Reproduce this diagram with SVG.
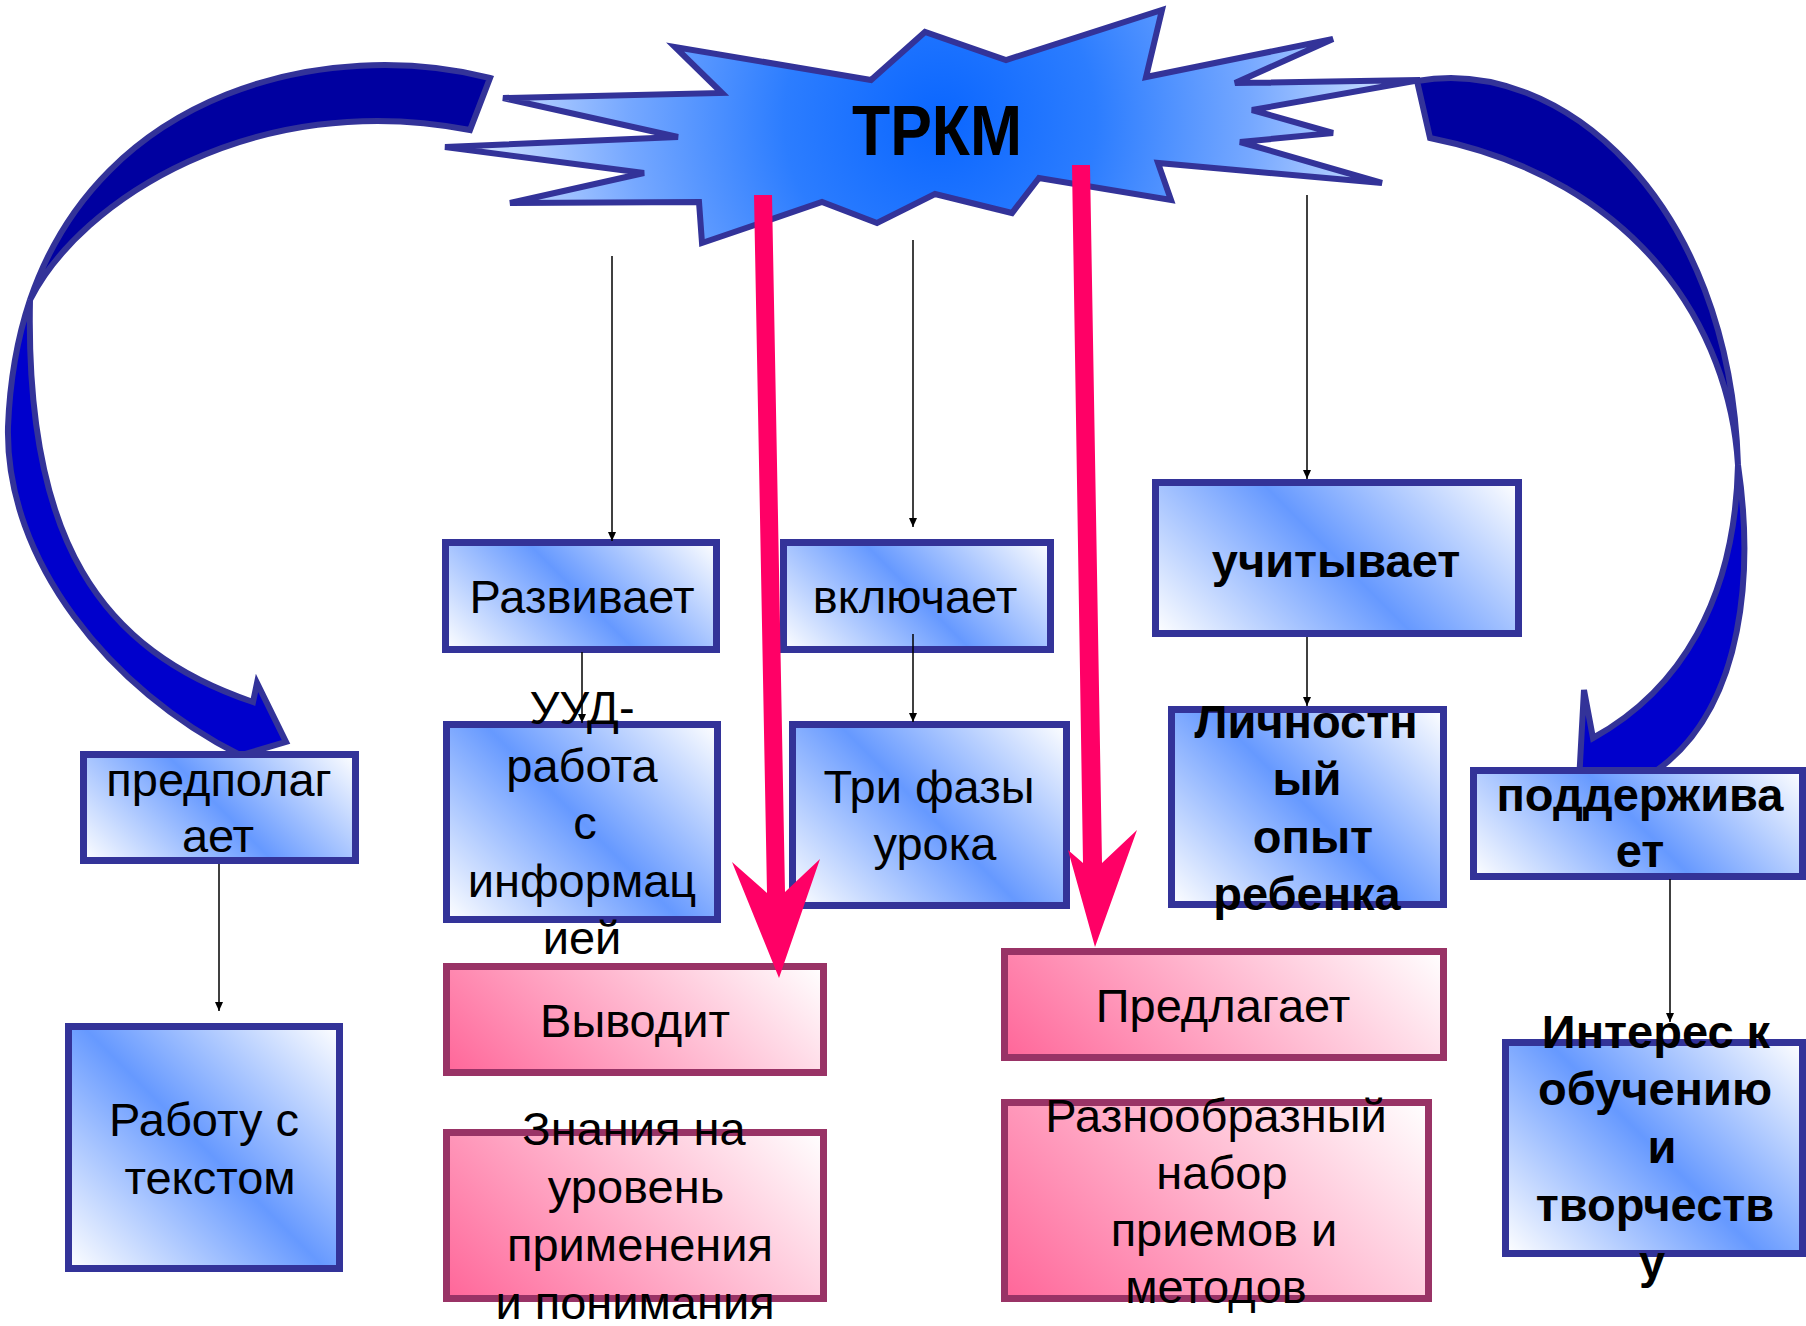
<svg xmlns="http://www.w3.org/2000/svg" width="1806" height="1326" viewBox="0 0 1806 1326">
<defs>
<style>
.t{font-family:"Liberation Sans",Arial,sans-serif;font-size:47px;text-anchor:middle;fill:#000}
.b{font-weight:bold}
.big{font-size:71px}
.bx{stroke:#333399;stroke-width:7}
.pk{stroke:#993366;stroke-width:7}
.cn{stroke:#000;stroke-width:1.5;fill:none;marker-end:url(#ah)}
.arcD{fill:#0000A0;stroke:#333399;stroke-width:6;stroke-linejoin:miter}
.arcB{fill:#0000CC;stroke:#333399;stroke-width:6;stroke-linejoin:miter}
.pa{fill:#FF0066}
</style>
<marker id="ah" markerUnits="userSpaceOnUse" markerWidth="9" markerHeight="12" refX="9" refY="4" orient="auto">
<path d="M0,0 L9,4 L0,8 z" fill="#000"/>
</marker>
<radialGradient id="gStar" gradientUnits="userSpaceOnUse" cx="940" cy="120" r="520">
<stop offset="0" stop-color="#0A66FF"/>
<stop offset="0.3" stop-color="#2C7DFF"/>
<stop offset="0.6" stop-color="#76A8FF"/>
<stop offset="1" stop-color="#F2F6FF"/>
</radialGradient>
<linearGradient id="gB">
<stop offset="0" stop-color="#FFFFFF"/>
<stop offset="0.5" stop-color="#6699FF"/>
<stop offset="1" stop-color="#FFFFFF"/>
</linearGradient>
<linearGradient id="gP">
<stop offset="0" stop-color="#FF6699"/>
<stop offset="1" stop-color="#FFFFFF"/>
</linearGradient>
<linearGradient id="g1" href="#gB" gradientUnits="userSpaceOnUse" x1="486.5" y1="690.5" x2="675.5" y2="501.5"/>
<linearGradient id="g2" href="#gB" gradientUnits="userSpaceOnUse" x1="823.5" y1="689.5" x2="1010.5" y2="502.5"/>
<linearGradient id="g3" href="#gB" gradientUnits="userSpaceOnUse" x1="465.5" y1="938.5" x2="698.5" y2="705.5"/>
<linearGradient id="g4" href="#gB" gradientUnits="userSpaceOnUse" x1="815.75" y1="928.75" x2="1043.25" y2="701.25"/>
<linearGradient id="g5" href="#gB" gradientUnits="userSpaceOnUse" x1="1208.5" y1="686.5" x2="1465.5" y2="429.5"/>
<linearGradient id="g6" href="#gB" gradientUnits="userSpaceOnUse" x1="1190.75" y1="923.75" x2="1424.25" y2="690.25"/>
<linearGradient id="g7" href="#gB" gradientUnits="userSpaceOnUse" x1="125" y1="902" x2="314" y2="713"/>
<linearGradient id="g8" href="#gB" gradientUnits="userSpaceOnUse" x1="75.75" y1="1275.75" x2="332.25" y2="1019.25"/>
<linearGradient id="g9" href="#gP" gradientUnits="userSpaceOnUse" x1="514.25" y1="1140.25" x2="755.75" y2="898.75"/>
<linearGradient id="g10" href="#gP" gradientUnits="userSpaceOnUse" x1="499.25" y1="1351.25" x2="770.75" y2="1079.75"/>
<linearGradient id="g11" href="#gP" gradientUnits="userSpaceOnUse" x1="1087.75" y1="1140.75" x2="1360.25" y2="868.25"/>
<linearGradient id="g12" href="#gP" gradientUnits="userSpaceOnUse" x1="1061.5" y1="1355.5" x2="1371.5" y2="1045.5"/>
<linearGradient id="g13" href="#gB" gradientUnits="userSpaceOnUse" x1="1529.25" y1="932.25" x2="1746.75" y2="714.75"/>
<linearGradient id="g14" href="#gB" gradientUnits="userSpaceOnUse" x1="1527" y1="1275" x2="1781" y2="1021"/>
</defs>
<rect width="1806" height="1326" fill="#FFFFFF"/>

<g id="curved-arrows">
<g id="arrow-left">
<path class="arcD" d="M490,78 C328.5,37.2 102,88.9 30,300 C80,200 255,88 470,130 Z"/>
<path class="arcB" d="M30,300 C17.6,337.2 9.8,379.5 8,427 C5,560 110,690 240,755 L218,762 L286,742 L257,683 L253,702 C100,650 25,540 30,300 Z"/>
</g>
<g id="arrow-right">
<path class="arcD" d="M1417,81 C1560,55 1730,200 1738,465 C1730,330 1640,180 1430,138 Z"/>
<path class="arcB" d="M1738,465 C1752,560 1750,710 1650,775 L1600,800 L1578,800 L1584,690 L1593,738 C1680,690 1735,600 1738,465 Z"/>
</g>
</g>

<g id="trkm">
<polygon points="445,147 678,137 503,98 722,93 675,47 871,80 925,32 1006,60 1162,10 1146,77 1333,39 1235,83 1420,80 1252,110 1333,133 1240,142 1382,183 1158,163 1171,200 1039,178 1012,213 935,194 877,223 822,202 702,243 699,202 510,203 644,173" fill="url(#gStar)" stroke="#333399" stroke-width="6" stroke-linejoin="miter"/>
<text class="t b big" x="937" y="155" textLength="170" lengthAdjust="spacingAndGlyphs">ТРКМ</text>
</g>

<g id="razvivaet">
<rect class="bx" x="445.5" y="542.5" width="271" height="107" fill="url(#g1)"/>
<text class="t" x="582" y="613">Развивает</text>
</g>
<g id="vklyuchaet">
<rect class="bx" x="783.5" y="542.5" width="267" height="107" fill="url(#g2)"/>
<text class="t" x="915" y="613">включает</text>
</g>
<g id="uud">
<rect class="bx" x="446.5" y="724.5" width="271" height="195" fill="url(#g3)"/>
<text class="t" x="582" y="724">УУД-</text>
<text class="t" x="582" y="782">работа</text>
<text class="t" x="585" y="839">с</text>
<text class="t" x="582" y="897">информац</text>
<text class="t" x="582" y="954">ией</text>
</g>
<g id="tri-fazy">
<rect class="bx" x="792.5" y="724.5" width="274" height="181" fill="url(#g4)"/>
<text class="t" x="929" y="803">Три фазы</text>
<text class="t" x="935" y="860">урока</text>
</g>
<g id="uchityvaet">
<rect class="bx" x="1155.5" y="482.5" width="363" height="151" fill="url(#g5)"/>
<text class="t b" x="1336" y="577">учитывает</text>
</g>
<g id="lichnostny">
<rect class="bx" x="1171.5" y="709.5" width="272" height="195" fill="url(#g6)"/>
<text class="t b" x="1306" y="738">Личностн</text>
<text class="t b" x="1307" y="795">ый</text>
<text class="t b" x="1313" y="853">опыт</text>
<text class="t b" x="1307" y="910">ребенка</text>
</g>
<g id="predpolagaet">
<rect class="bx" x="83.5" y="754.5" width="272" height="106" fill="url(#g7)"/>
<text class="t" x="219" y="796">предполаг</text>
<text class="t" x="218" y="852">ает</text>
</g>
<g id="rabotu">
<rect class="bx" x="68.5" y="1026.5" width="271" height="242" fill="url(#g8)"/>
<text class="t" x="204" y="1136">Работу с</text>
<text class="t" x="210" y="1194">текстом</text>
</g>
<g id="vyvodit">
<rect class="pk" x="446.5" y="966.5" width="377" height="106" fill="url(#g9)"/>
<text class="t" x="635" y="1037">Выводит</text>
</g>
<g id="znaniya">
<rect class="pk" x="446.5" y="1132.5" width="377" height="166" fill="url(#g10)"/>
<text class="t" x="634" y="1145">Знания на</text>
<text class="t" x="636" y="1203">уровень</text>
<text class="t" x="640" y="1261">применения</text>
<text class="t" x="635" y="1319">и понимания</text>
</g>
<g id="predlagaet">
<rect class="pk" x="1004.5" y="951.5" width="439" height="106" fill="url(#g11)"/>
<text class="t" x="1223" y="1022">Предлагает</text>
</g>
<g id="raznoobrazny">
<rect class="pk" x="1004.5" y="1102.5" width="424" height="196" fill="url(#g12)"/>
<text class="t" x="1216" y="1132">Разнообразный</text>
<text class="t" x="1222" y="1189">набор</text>
<text class="t" x="1224" y="1246">приемов и</text>
<text class="t" x="1216" y="1303">методов</text>
</g>
<g id="podderzhivaet">
<rect class="bx" x="1473.5" y="770.5" width="329" height="106" fill="url(#g13)"/>
<text class="t b" x="1640" y="811">поддержива</text>
<text class="t b" x="1640" y="867">ет</text>
</g>
<g id="interes">
<rect class="bx" x="1505.5" y="1042.5" width="297" height="211" fill="url(#g14)"/>
<text class="t b" x="1656" y="1048">Интерес к</text>
<text class="t b" x="1655" y="1105">обучению</text>
<text class="t b" x="1662" y="1163">и</text>
<text class="t b" x="1655" y="1221">творчеств</text>
<text class="t b" x="1652" y="1278">у</text>
</g>

<g id="connectors">
<line class="cn" x1="612" y1="256" x2="612" y2="541"/>
<line class="cn" x1="913" y1="240" x2="913" y2="527"/>
<line class="cn" x1="1307" y1="195" x2="1307" y2="479"/>
<line class="cn" x1="582" y1="652" x2="582" y2="723"/>
<line class="cn" x1="913" y1="634" x2="913" y2="722"/>
<line class="cn" x1="1307" y1="637" x2="1307" y2="706"/>
<line class="cn" x1="219" y1="864" x2="219" y2="1011"/>
<line class="cn" x1="1670" y1="879" x2="1670" y2="1022"/>
</g>

<g id="pink-arrows">
<polygon class="pa" points="754,195 772,195 785,892 820,859 779,978 732,862 767,893"/>
<polygon class="pa" points="1072,165 1090,165 1102,863 1137,830 1095,947 1068,850 1083,863"/>
</g>
</svg>
